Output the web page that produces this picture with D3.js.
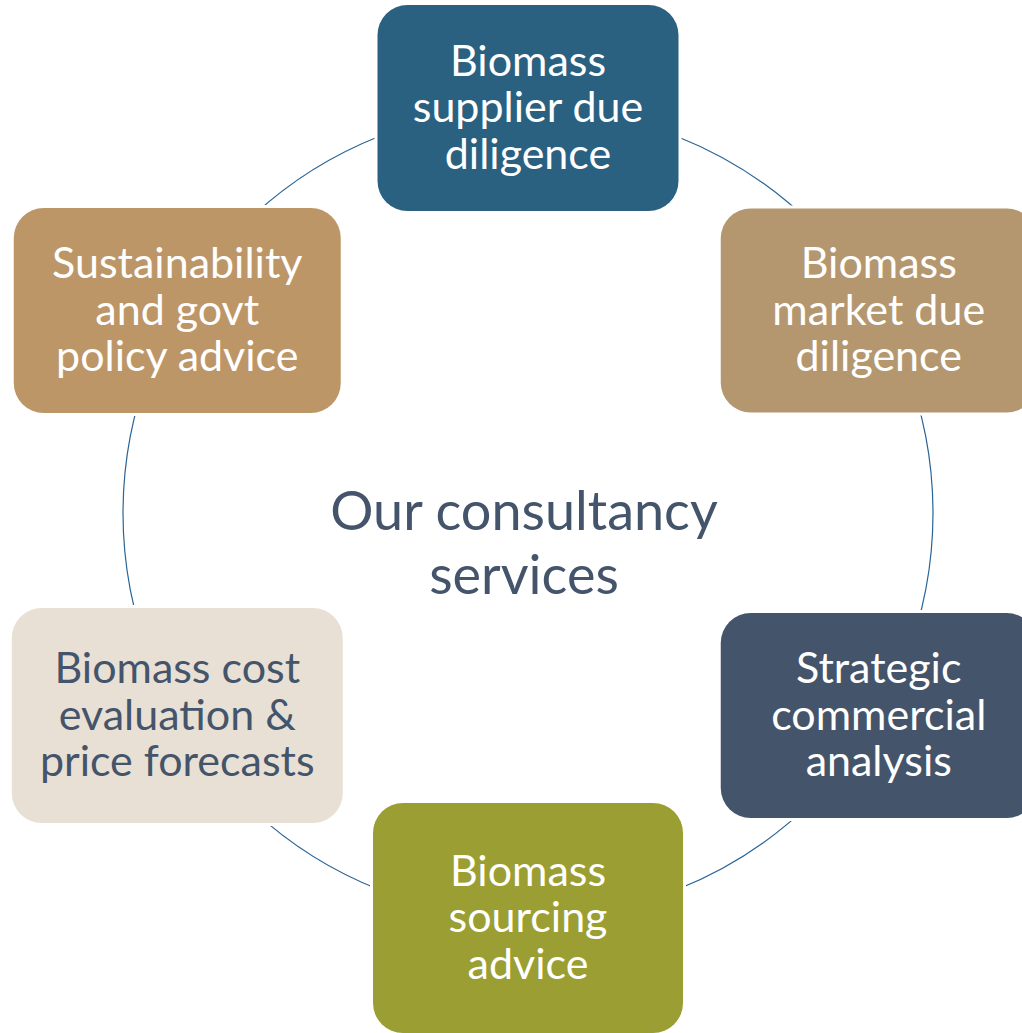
<!DOCTYPE html>
<html>
<head>
<meta charset="utf-8">
<script src="https://cdn.jsdelivr.net/npm/d3@7"></script>
<style>
  body { margin: 0; background: #fff; }
  svg { display: block; }
  text { font-family: Lato, 'Open Sans', sans-serif; }
</style>
</head>
<body>
<svg></svg>
<script>
// services, clockwise from the top
const services = [
  ['Biomass', 'supplier due', 'diligence'],
  ['Biomass', 'market due', 'diligence'],
  ['Strategic', 'commercial', 'analysis'],
  ['Biomass', 'sourcing', 'advice'],
  ['Biomass cost', 'evaluation &', 'price forecasts'],
  ['Sustainability', 'and govt', 'policy advice']
]

const centerTitle = ['Our consultancy', 'services']

const fills = ['#2a6180', '#b5976f', '#44546a', '#9b9e32', '#e8e0d4', '#bd9668']
const textColors = ['#fff', '#fff', '#fff', '#fff', '#44546a', '#fff']

// box sizes as drawn in the original (w, h)
const boxW = [301, 316, 316, 310, 331, 327]
const boxH = [206, 204, 205, 230, 215, 205]

const width = 1022,
  height = 1033,
  cx = 528,
  cy = 513,
  radius = 405

const svg = d3.select('svg')
  .attr('width', width)
  .attr('height', height)

const angle = d3.scaleLinear()
  .domain([0, services.length])
  .range([-Math.PI / 2, Math.PI * 3 / 2])

const posX = i => cx + radius * Math.cos(angle(i))
const posY = i => cy + radius * Math.sin(angle(i))

// ring behind the boxes
svg.append('circle')
  .attr('cx', cx)
  .attr('cy', cy)
  .attr('r', radius)
  .attr('fill', 'none')
  .attr('stroke', '#2a6496')
  .attr('stroke-width', 1.2)

const nodes = svg.selectAll('.node')
  .data(services)
  .enter().append('g')
  .attr('class', 'node')
  .attr('transform', (d, i) => `translate(${posX(i)},${posY(i)})`)

// white halo so the ring stops short of each box
nodes.append('rect')
  .attr('x', (d, i) => -boxW[i] / 2 - 3)
  .attr('y', (d, i) => -boxH[i] / 2 - 3)
  .attr('width', (d, i) => boxW[i] + 6)
  .attr('height', (d, i) => boxH[i] + 6)
  .attr('rx', 33)
  .attr('fill', '#fff')

nodes.append('rect')
  .attr('x', (d, i) => -boxW[i] / 2)
  .attr('y', (d, i) => -boxH[i] / 2)
  .attr('width', (d, i) => boxW[i])
  .attr('height', (d, i) => boxH[i])
  .attr('rx', 30)
  .attr('fill', (d, i) => fills[i])

const lineH = 46.5

nodes.each(function (d, i) {
  const t = d3.select(this).append('text')
    .attr('text-anchor', 'middle')
    .attr('font-size', 43)
    .attr('fill', textColors[i])
  t.selectAll('tspan')
    .data(d)
    .enter().append('tspan')
    .attr('x', 0)
    .attr('y', (s, j) => (j - (d.length - 1) / 2) * lineH + 14)
    .text(s => s)
})

// center label
svg.append('text')
  .attr('text-anchor', 'middle')
  .attr('font-size', 54)
  .attr('fill', '#44546a')
  .selectAll('tspan')
  .data(centerTitle)
  .enter().append('tspan')
  .attr('x', cx - 4)
  .attr('y', (s, j) => 530 + j * 64)
  .text(s => s)
</script>
</body>
</html>
